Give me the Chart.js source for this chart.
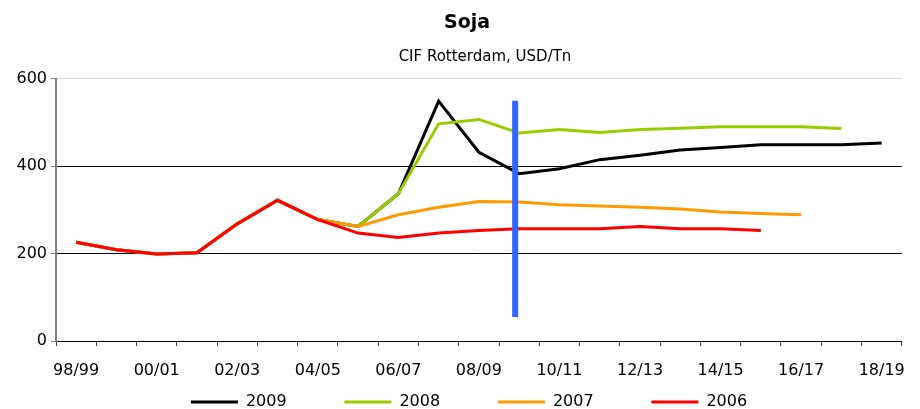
<!DOCTYPE html>
<html>
<head>
<meta charset="utf-8">
<script src="https://cdn.jsdelivr.net/npm/chart.js@4.4.1/dist/chart.umd.min.js"></script>
<style>
  body { margin: 0; background: #fff; }
  #wrap { width: 920px; height: 409px; }
</style>
</head>
<body>
<div id="wrap"><canvas id="sojaChart"></canvas></div>
<script>
// campaigns on the x axis
let seasons = ['98/99', '99/00', '00/01', '01/02', '02/03', '03/04', '04/05', '05/06', '06/07', '07/08',
  '08/09', '09/10', '10/11', '11/12', '12/13', '13/14', '14/15', '15/16', '16/17', '17/18', '18/19'];

// price series (USD/Tn), one per projection year
let s2009 = [226, 209, 199, 202, 268, 322, 278, 262, 337, 549, 432, 383, 394, 415, 425, 437, 443, 449, 449, 449, 453];
let s2008 = [226, 209, 199, 202, 268, 322, 278, 262, 337, 497, 507, 476, 484, 477, 484, 487, 490, 490, 490, 486, null];
let s2007 = [226, 209, 199, 202, 268, 322, 278, 262, 289, 306, 319, 318, 312, 309, 306, 302, 295, 292, 289, null, null];
let s2006 = [226, 209, 199, 202, 268, 322, 278, 247, 237, 247, 253, 257, 257, 257, 262, 257, 257, 253, null, null, null];

// vertical marker (season position, price range)
let markerX = [10.9, 10.9];
let markerY = [55, 550];

let yTicks = [0, 200, 400, 600];

let font = 'DejaVu Sans';
let ctx = document.getElementById('sojaChart').getContext('2d');

function line(label, data, color, order) {
  return {
    label: label,
    data: data,
    borderColor: color,
    backgroundColor: color,
    borderWidth: 3,
    pointRadius: 0,
    tension: 0,
    order: order
  };
}

// the original titles and legend are not centred on the canvas: nudge them sideways
function nudge(box, dx) {
  if (!box) return;
  box.left += dx;
  box.right += dx;
}
let nudgeBoxes = {
  id: 'nudgeBoxes',
  afterLayout: (chart) => {
    let sub = chart.boxes.find((b) => b !== chart.titleBlock && b.options && b.options.text === 'CIF Rotterdam, USD/Tn');
    nudge(chart.titleBlock, 5);
    nudge(sub, 23);
    nudge(chart.legend, 7);
  }
};

let myChart = new Chart(ctx, {
  type: 'line',
  data: {
    labels: seasons,
    datasets: [
      line('2009', s2009, '#000000', 4),
      line('2008', s2008, '#99cc00', 3),
      line('2007', s2007, '#ff9900', 2),
      line('2006', s2006, '#ff0000', 1),
      {
        label: 'marker',
        data: markerX.map((x, i) => ({ x: x, y: markerY[i] })),
        xAxisID: 'xm',
        borderColor: '#3366ff',
        borderWidth: 6,
        borderCapStyle: 'butt',
        pointRadius: 0,
        order: 0
      }
    ]
  },
  plugins: [nudgeBoxes],
  options: {
    responsive: true,
    maintainAspectRatio: false,
    animation: false,
    layout: { padding: { left: 15, right: 11, top: 0, bottom: 0 } },
    plugins: {
      title: {
        display: true,
        text: 'Soja',
        color: '#000',
        font: { family: font, size: 19, weight: 'bold' },
        padding: { top: 12, bottom: 2 }
      },
      subtitle: {
        display: true,
        text: 'CIF Rotterdam, USD/Tn',
        color: '#000',
        font: { family: font, size: 15 },
        padding: { top: 11, bottom: 13 }
      },
      legend: {
        position: 'bottom',
        maxHeight: 27,
        labels: {
          color: '#000',
          font: { family: font, size: 16 },
          usePointStyle: true,
          pointStyle: 'line',
          pointStyleWidth: 47,
          padding: 12,
          filter: (item) => item.text !== 'marker',
          sort: (a, b) => a.datasetIndex - b.datasetIndex,
          generateLabels: (chart) => {
            let items = Chart.defaults.plugins.legend.labels.generateLabels(chart);
            items.forEach((it) => {
              if (it.text !== '2006' && it.text !== 'marker') it.text = it.text + '         ';
            });
            return items;
          }
        }
      },
      tooltip: { enabled: false }
    },
    scales: {
      x: {
        type: 'category',
        offset: true,
        afterFit: (scale) => { scale.height = 41; },
        grid: {
          offset: true,
          drawOnChartArea: false,
          tickLength: 5,
          tickColor: '#404040'
        },
        border: { color: '#000', width: 1 },
        ticks: {
          autoSkip: false,
          maxRotation: 0,
          minRotation: 0,
          padding: 15,
          color: '#000',
          font: { family: font, size: 16 },
          callback: (v, i) => (i % 2 === 0 ? seasons[i] : '')
        }
      },
      xm: {
        type: 'linear',
        display: false,
        min: -0.5,
        max: seasons.length - 0.5
      },
      y: {
        min: yTicks[0],
        max: yTicks[yTicks.length - 1],
        afterFit: (scale) => { scale.width = 41; },
        afterBuildTicks: (scale) => { scale.ticks = yTicks.map((v) => ({ value: v })); },
        grid: {
          color: (c) => (c.tick && c.tick.value === 600 ? '#d9d9d9' : '#000000'),
          tickLength: 5,
          tickColor: '#808080'
        },
        border: { color: '#808080', width: 2 },
        ticks: {
          padding: 4,
          color: '#000',
          font: { family: font, size: 16 }
        }
      }
    }
  }
});
</script>
</body>
</html>
